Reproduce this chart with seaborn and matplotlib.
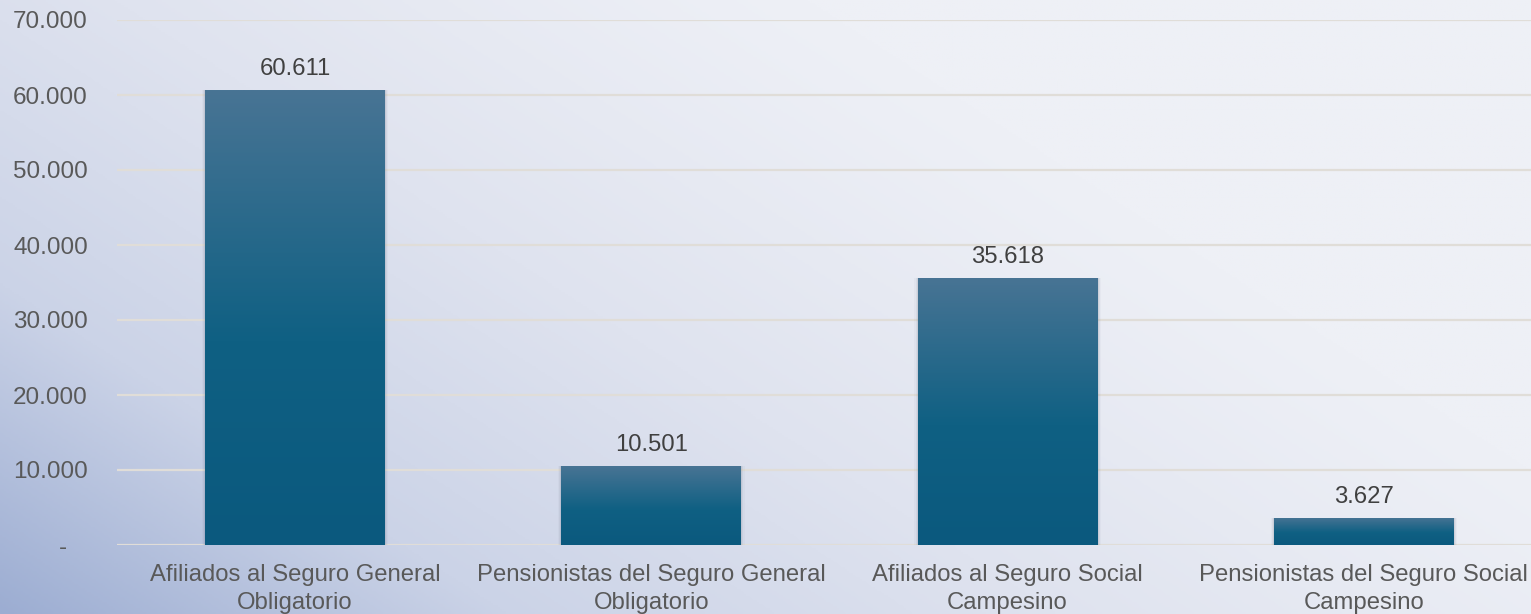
import numpy as np
import pandas as pd
import seaborn as sns
import matplotlib.pyplot as plt
from matplotlib.colors import LinearSegmentedColormap

categorias = ["Afiliados al Seguro General\nObligatorio",
              "Pensionistas del Seguro General\nObligatorio",
              "Afiliados al Seguro Social\nCampesino",
              "Pensionistas del Seguro Social\nCampesino"]
valores = [60611, 10501, 35618, 3627]
ticks_y = [0, 10000, 20000, 30000, 40000, 50000, 60000, 70000]

df = pd.DataFrame({"categoria": categorias, "valor": valores})

sns.set_theme(style="white")
plt.rcParams['font.family'] = ['Liberation Sans', 'DejaVu Sans']

fig = plt.figure(figsize=(15.31, 6.14), dpi=100)

# fondo degradado
bg = fig.add_axes([0, 0, 1, 1], zorder=0)
bg.axis("off")
yy, xx = np.mgrid[0:1:300j, 0:1:700j]
d = np.clip(1.0 - (xx * 1.3 + (1 - yy) * 0.8) / 1.5, 0, 1)
fondo_cmap = LinearSegmentedColormap.from_list("fondo", ["#eef0f6", "#dfe3ef", "#cbd3e7", "#9cadd2"])
bg.imshow(d ** 1.2, cmap=fondo_cmap, aspect="auto", extent=[0, 1, 0, 1], origin="upper")
bg.set_xlim(0, 1)
bg.set_ylim(0, 1)

ax = fig.add_axes([117 / 1531, 69 / 614, 1425 / 1531, 525 / 614], zorder=1)
ax.patch.set_alpha(0)

sns.barplot(data=df, x="categoria", y="valor", color="#1a6489", width=0.505,
            linewidth=0, ax=ax, zorder=3)

ax.set_ylim(0, 70000)
ax.set_xlim(-0.5, 3.5)
ax.set_yticks(ticks_y)
ax.set_yticklabels(["-   "] + [f"{t:,}".replace(",", ".") for t in ticks_y[1:]])
ax.grid(axis="y", color="#e0ddd8", linewidth=1.6, zorder=0)
ax.set_axisbelow(True)
for s in ax.spines.values():
    s.set_visible(False)
ax.set_xlabel("")
ax.set_ylabel("")
ax.tick_params(axis="y", labelsize=17.5, labelcolor="#595959", pad=21, length=0)
ax.tick_params(axis="x", labelsize=17.2, labelcolor="#595959", pad=14, length=0)
for t in ax.get_xticklabels():
    t.set_linespacing(1.3)

# degradado en las barras
bar_cmap = LinearSegmentedColormap.from_list("barra", [(0, "#0b597e"), (0.45, "#0f6083"), (1, "#487494")])
grad = np.linspace(0, 1, 256).reshape(-1, 1)
for p, v in zip(ax.patches, valores):
    x0, w, h = p.get_x(), p.get_width(), p.get_height()
    # sombra suave
    for k, a in enumerate([0.10, 0.07, 0.04]):
        ax.bar(x0 + w / 2, h + 150 * (k + 1), width=w + 0.006 * (k + 1), bottom=-150 * (k + 1),
               color="#5a6276", alpha=a, linewidth=0, zorder=2)
    img = ax.imshow(grad, cmap=bar_cmap, aspect="auto", origin="lower",
                    extent=[x0, x0 + w, 0, h], zorder=3)
    img.set_clip_path(p)
    p.set_facecolor("none")
    ax.text(x0 + w / 2, h + 1350, f"{v:,}".replace(",", "."), ha="center", va="bottom",
            fontsize=17.2, color="#404040", zorder=4)

ax.set_xlim(-0.5, 3.5)
ax.set_ylim(0, 70000)

fig.savefig("out.png", dpi=100)
